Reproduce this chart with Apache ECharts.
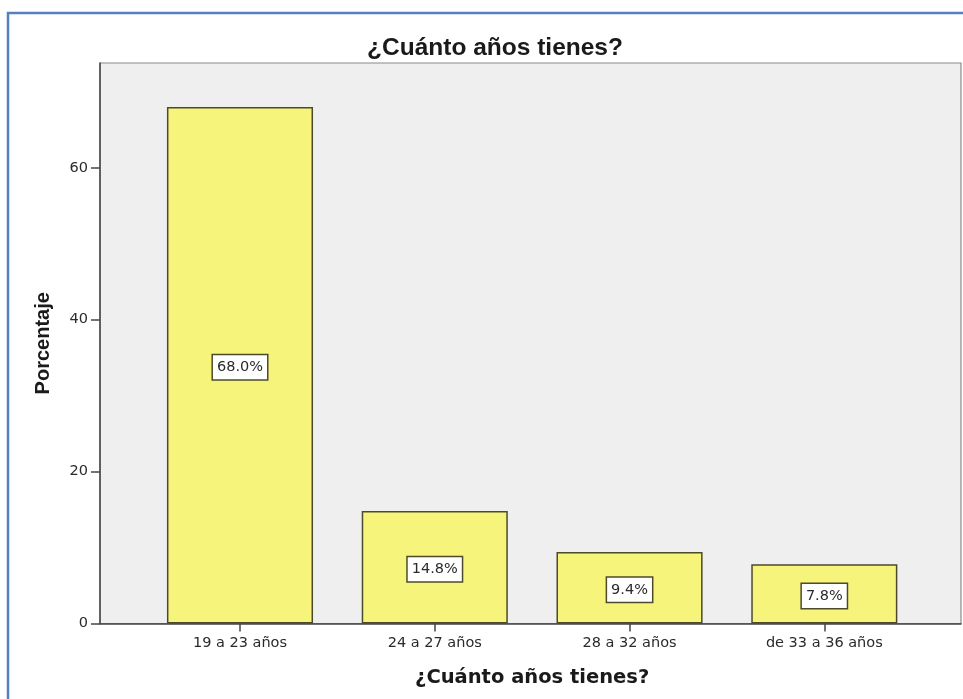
<!DOCTYPE html>
<html>
<head>
<meta charset="utf-8">
<script src="https://cdn.jsdelivr.net/npm/echarts@6/dist/echarts.min.js"></script>
<style>html,body{margin:0;padding:0;background:#fff;}#c{width:963px;height:699px;}</style>
</head>
<body>
<div id="c"></div>
<script>
const categories = ['19 a 23 años', '24 a 27 años', '28 a 32 años', 'de 33 a 36 años'];
const percentages = [68.0, 14.8, 9.4, 7.8];
const yTicks = [0, 20, 40, 60];
const chartTitle = '¿Cuánto años tienes?';
const xTitle = '¿Cuánto años tienes?';
const yTitle = 'Porcentaje';

const chart = echarts.init(document.getElementById('c'), null, {renderer: 'canvas'});
const gridTop = 63, gridBottom = 75.5, yMax = 73.8;
chart.setOption({
  animation: false,
  backgroundColor: '#ffffff',
  title: {
    text: chartTitle, left: 490, top: 31, textAlign: 'center',
    textStyle: {fontFamily: 'Liberation Sans', fontWeight: 'bold', fontSize: 24.5, color: '#1a1a1a'}
  },
  graphic: [{
    type: 'rect', shape: {x: 8, y: 13, width: 1000, height: 800},
    style: {fill: 'none', stroke: '#5580c0', lineWidth: 2.5}, z: 100
  }],
  grid: [
    {left: 100, right: 2, top: gridTop, bottom: gridBottom, show: true, backgroundColor: '#efefef', borderColor: '#8a8a8a', borderWidth: 1.2},
    {left: 142.6, right: 41.3, top: gridTop, bottom: gridBottom}
  ],
  xAxis: [
    {gridIndex: 0, type: 'value', min: 0, max: 1, axisLine: {show: true, onZero: false, lineStyle: {color: '#444', width: 1.5}},
     axisTick: {show: false}, axisLabel: {show: false}, splitLine: {show: false}},
    {gridIndex: 1, type: 'category', data: categories,
     axisLine: {show: false}, axisTick: {show: true, alignWithLabel: true, length: 8, lineStyle: {color: '#444', width: 1.5}},
     axisLabel: {margin: 12, fontFamily: 'DejaVu Sans', fontSize: 14.5, color: '#2a2a2a'},
     name: xTitle, nameLocation: 'middle', nameGap: 44,
     nameTextStyle: {fontFamily: 'DejaVu Sans', fontWeight: 'bold', fontSize: 19.5, color: '#1a1a1a'}}
  ],
  yAxis: [
    {gridIndex: 0, type: 'value', min: 0, max: yMax,
     axisLine: {show: true, lineStyle: {color: '#444', width: 1.5}},
     axisTick: {show: true, length: 9, customValues: yTicks, lineStyle: {color: '#444', width: 1.5}},
     axisLabel: {margin: 12, customValues: yTicks, fontFamily: 'DejaVu Sans', fontSize: 14.5, color: '#2a2a2a'},
     splitLine: {show: false},
     name: yTitle, nameLocation: 'middle', nameGap: 47, nameRotate: 90,
     nameTextStyle: {fontFamily: 'Liberation Sans', fontWeight: 'bold', fontSize: 20, color: '#1a1a1a'}},
    {gridIndex: 1, type: 'value', min: 0, max: yMax, show: false}
  ],
  series: [{
    type: 'bar', xAxisIndex: 1, yAxisIndex: 1, data: percentages, barWidth: '75%',
    itemStyle: {color: '#f7f47b', borderColor: '#4d4a2a', borderWidth: 1.5},
    label: {
      show: true, position: 'inside', offset: [0, 2], formatter: p => p.value.toFixed(1) + '%',
      fontFamily: 'DejaVu Sans', fontSize: 14.5, color: '#2a2a2a',
      backgroundColor: '#ffffff', borderColor: '#4d4a2a', borderWidth: 1.5, padding: [5, 4, 4, 4]
    }
  }]
});
</script>
</body>
</html>
